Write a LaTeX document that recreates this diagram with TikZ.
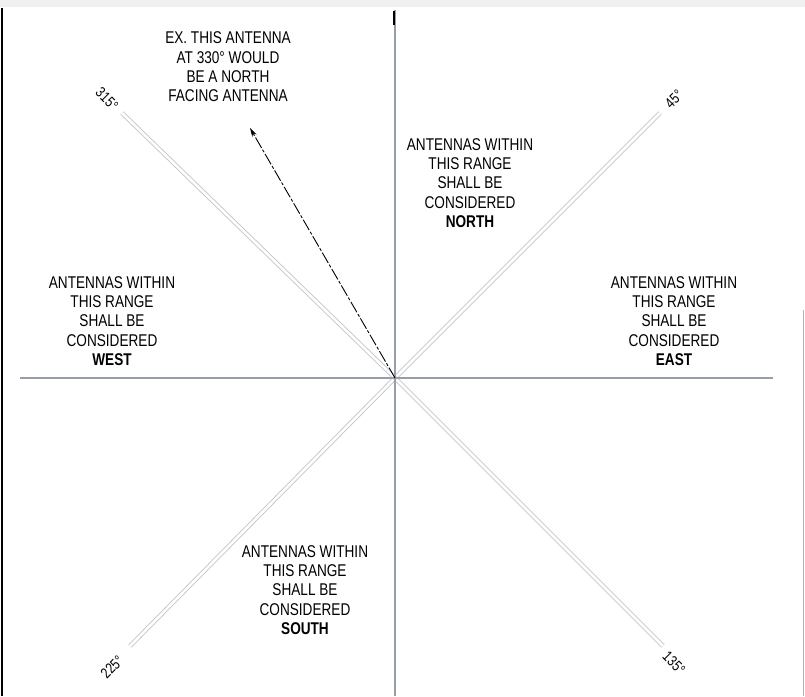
\documentclass[tikz,border=0pt]{standalone}
\usepackage{fontspec}
\setmainfont{Liberation Sans}[FakeStretch=0.8]
\usetikzlibrary{arrows.meta}
\definecolor{axisgray}{RGB}{150,158,168}
\definecolor{diaggray}{RGB}{195,198,202}
\tikzset{
  axis/.style={draw=axisgray, line width=1.1pt},
  diag/.style={draw=diaggray, line width=0.9pt, double=white, double distance=2.6pt},
  rangetext/.style={align=center, inner sep=0pt, font=\fontsize{17}{19.3}\selectfont},
  degtext/.style={inner sep=0pt, font=\fontsize{15}{17}\selectfont},
  antenna/.style={draw=black, line width=0.9pt, dash pattern=on 12pt off 2pt on 3pt off 2pt, -{Stealth[length=9pt,width=5pt]}}
}
\begin{document}
\begin{tikzpicture}[x=1pt,y=-1pt]
\useasboundingbox (0,0) rectangle (805,696);
% frame remnants
\fill[gray!12] (0,0) rectangle (805,7);
\draw[black, line width=1.4pt] (2,8) -- (2,696);
\draw[gray!60, line width=0.8pt] (803,310) -- (803,696);
% coordinates
\coordinate (c) at (395,378);
\coordinate (top) at (395,10);
\coordinate (bot) at (395,696);
\coordinate (left) at (20,378);
\coordinate (right) at (773,378);
\coordinate (ne) at (660,113);
\coordinate (nw) at (122,113);
\coordinate (sw) at (130,646);
\coordinate (se) at (663,646);
\coordinate (tip) at (250,128);
\coordinate (ticka) at (394,11);
\coordinate (tickb) at (394,25);
% diagonals
\draw[diag] (c) -- (ne);
\draw[diag] (c) -- (nw);
\draw[diag] (c) -- (sw);
\draw[diag] (c) -- (se);
% axes
\draw[axis] (top) -- (bot);
\draw[axis] (left) -- (right);
\draw[black, line width=1.3pt] (ticka) -- (tickb);
% antenna arrow
\draw[antenna] (c) -- (tip);
% degree labels
\node[degtext, rotate=-45] (d315) at (107,99) {315°};
\node[degtext, rotate=45] (d45) at (674,99) {45°};
\node[degtext, rotate=45] (d225) at (112,667) {225°};
\node[degtext, rotate=-45] (d135) at (674,663) {135°};
% texts
\node[rangetext] (ex) at (228,67) {EX. THIS ANTENNA\\AT 330° WOULD\\BE A NORTH\\FACING ANTENNA};
\node[rangetext] (north) at (470,183) {ANTENNAS WITHIN\\THIS RANGE\\SHALL BE\\CONSIDERED\\\textbf{NORTH}};
\node[rangetext] (west) at (112,321) {ANTENNAS WITHIN\\THIS RANGE\\SHALL BE\\CONSIDERED\\\textbf{WEST}};
\node[rangetext] (east) at (674,321) {ANTENNAS WITHIN\\THIS RANGE\\SHALL BE\\CONSIDERED\\\textbf{EAST}};
\node[rangetext] (south) at (305,590) {ANTENNAS WITHIN\\THIS RANGE\\SHALL BE\\CONSIDERED\\\textbf{SOUTH}};
\end{tikzpicture}
\end{document}
